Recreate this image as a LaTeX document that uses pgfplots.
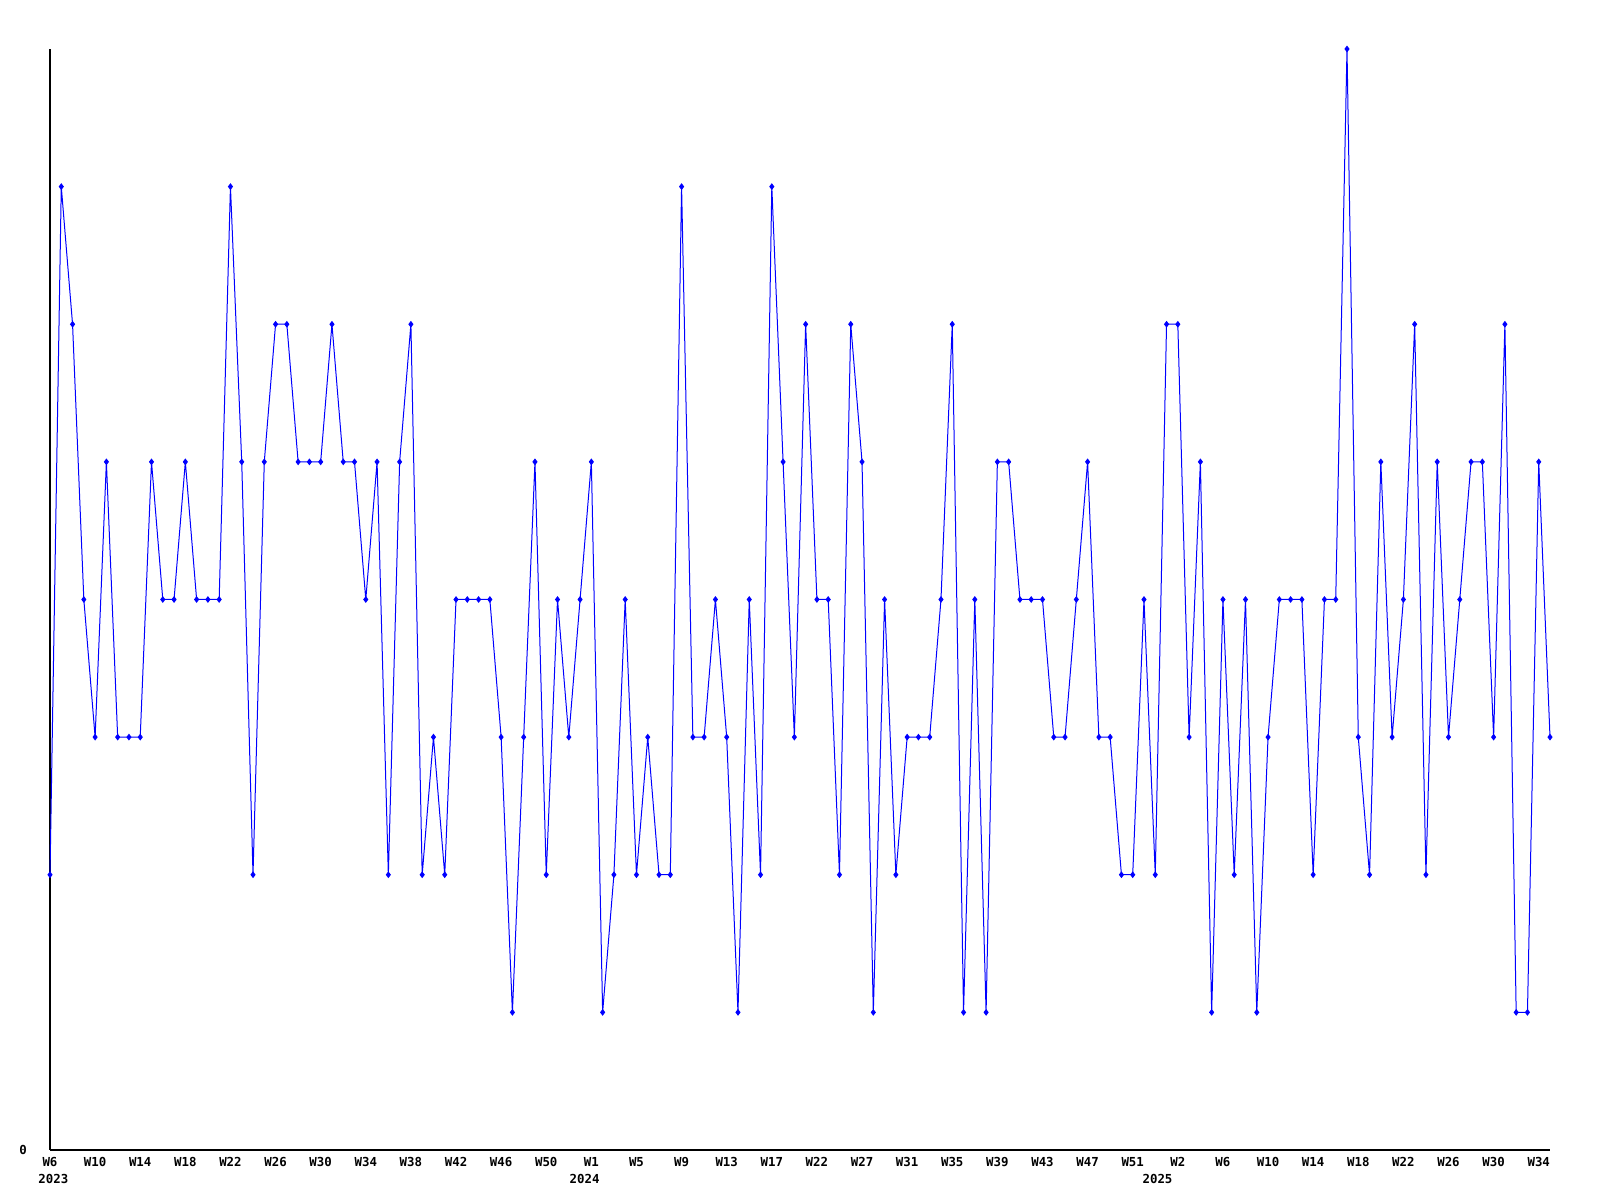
\documentclass[border=0pt]{standalone}
\usepackage{fontspec}
\setmonofont{DejaVu Sans Mono}
\usepackage{pgfplots}
\pgfplotsset{compat=1.18}
\begin{document}
\begin{tikzpicture}
\begin{axis}[
  scale only axis,
  width=750pt, height=550.5pt,
  xmin=0, xmax=133, ymin=0, ymax=8,
  axis x line=bottom, axis y line=left,
  axis line style={-, black, line width=0.55pt},
  major tick length=0pt,
  xtick={0,4,...,132},
  xticklabels={W6,W10,W14,W18,W22,W26,W30,W34,W38,W42,W46,W50,W1,W5,W9,W13,W17,W22,W27,W31,W35,W39,W43,W47,W51,W2,W6,W10,W14,W18,W22,W26,W30,W34},
  ytick={0}, yticklabels={0},
  ticklabel style={font=\ttfamily\bfseries\fontsize{6.2}{7}\selectfont},
  xticklabel style={yshift=-0.3pt},
  yticklabel style={xshift=-8pt},
  clip=false,
]
\addplot[color={rgb,255:red,0;green,0;blue,255}, line width=0.5pt, mark=diamond*, mark size=1.3pt, mark options={solid}] coordinates {
(0,2)(1,7)(2,6)(3,4)(4,3)(5,5)(6,3)(7,3)(8,3)(9,5)
(10,4)(11,4)(12,5)(13,4)(14,4)(15,4)(16,7)(17,5)(18,2)(19,5)
(20,6)(21,6)(22,5)(23,5)(24,5)(25,6)(26,5)(27,5)(28,4)(29,5)
(30,2)(31,5)(32,6)(33,2)(34,3)(35,2)(36,4)(37,4)(38,4)(39,4)
(40,3)(41,1)(42,3)(43,5)(44,2)(45,4)(46,3)(47,4)(48,5)(49,1)
(50,2)(51,4)(52,2)(53,3)(54,2)(55,2)(56,7)(57,3)(58,3)(59,4)
(60,3)(61,1)(62,4)(63,2)(64,7)(65,5)(66,3)(67,6)(68,4)(69,4)
(70,2)(71,6)(72,5)(73,1)(74,4)(75,2)(76,3)(77,3)(78,3)(79,4)
(80,6)(81,1)(82,4)(83,1)(84,5)(85,5)(86,4)(87,4)(88,4)(89,3)
(90,3)(91,4)(92,5)(93,3)(94,3)(95,2)(96,2)(97,4)(98,2)(99,6)
(100,6)(101,3)(102,5)(103,1)(104,4)(105,2)(106,4)(107,1)(108,3)(109,4)
(110,4)(111,4)(112,2)(113,4)(114,4)(115,8)(116,3)(117,2)(118,5)(119,3)
(120,4)(121,6)(122,2)(123,5)(124,3)(125,4)(126,5)(127,5)(128,3)(129,6)
(130,1)(131,1)(132,5)(133,3)
};
\node[font=\ttfamily\bfseries\fontsize{6.2}{7}\selectfont, anchor=north] at (axis cs:0.3,0) [yshift=-8.5pt] {2023};
\node[font=\ttfamily\bfseries\fontsize{6.2}{7}\selectfont, anchor=north] at (axis cs:47.4,0) [yshift=-8.5pt] {2024};
\node[font=\ttfamily\bfseries\fontsize{6.2}{7}\selectfont, anchor=north] at (axis cs:98.2,0) [yshift=-8.5pt] {2025};
\end{axis}
\pgfresetboundingbox
\path ([shift={(-25pt,-25pt)}]current axis.south west) rectangle ([shift={(25pt,24.5pt)}]current axis.north east);
\end{tikzpicture}
\end{document}
